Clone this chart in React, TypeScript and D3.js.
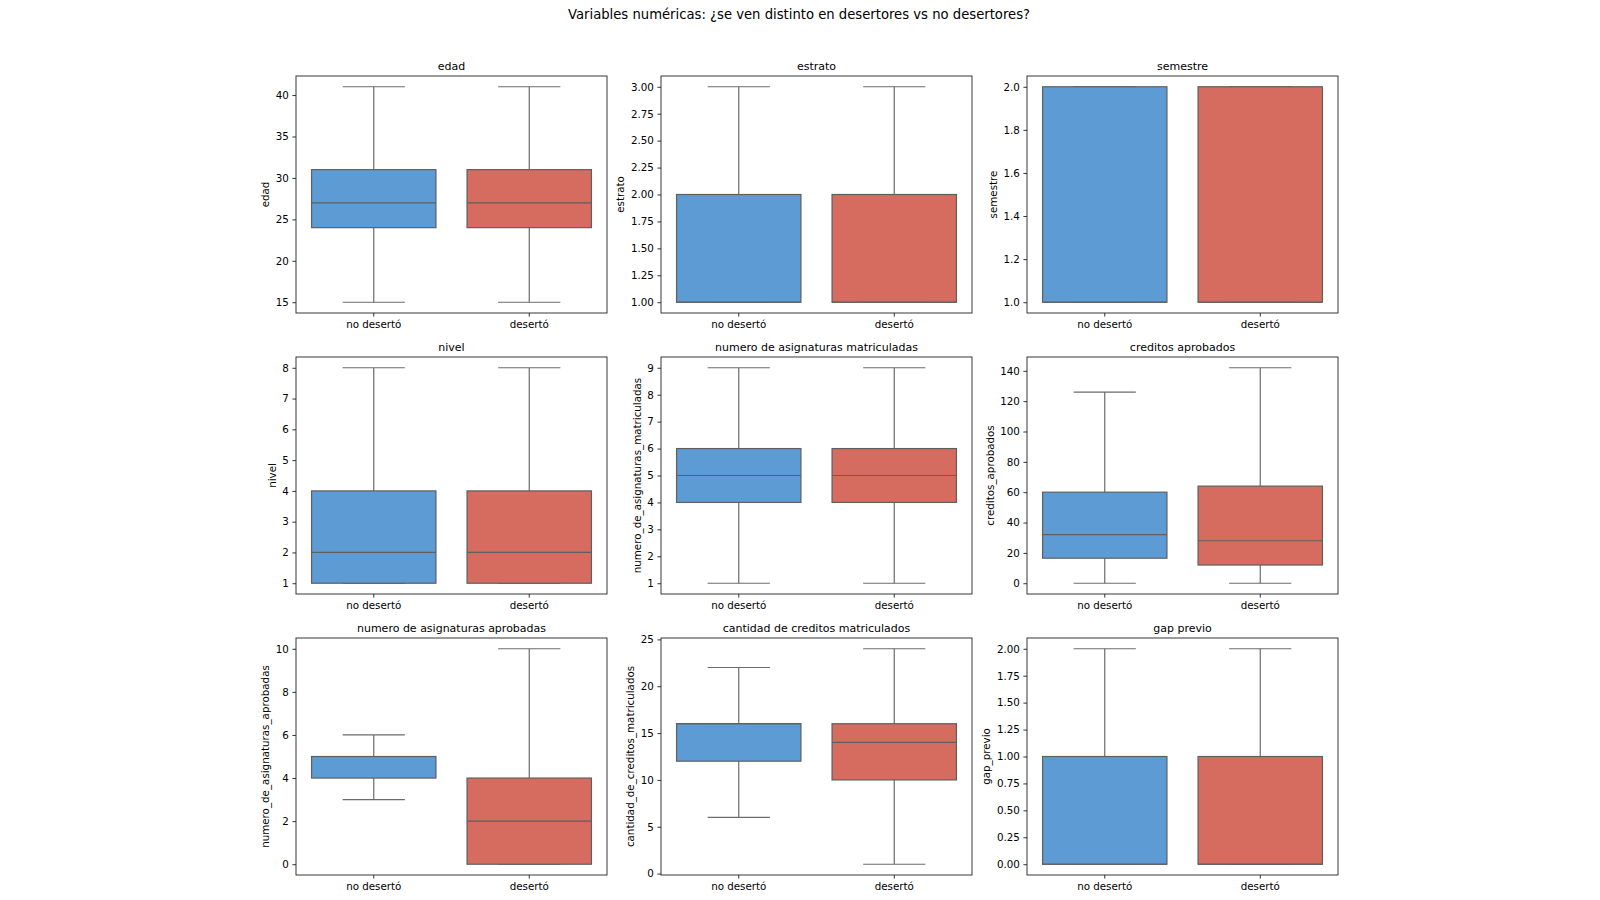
import { useEffect, useRef } from "react";
import * as d3 from "d3";

// groups and colours
const groups = ["no desertó", "desertó"];
const groupColors = ["#5d9bd5", "#d66b5f"];

// box stats per group: [whisker low, q1, median, q3, whisker high]
const edadStats = [[15, 24, 27, 31, 41], [15, 24, 27, 31, 41]];
const estratoStats = [[1, 1, 1, 2, 3], [1, 1, 1, 2, 3]];
const semestreStats = [[1, 1, 1, 2, 2], [1, 1, 1, 2, 2]];
const nivelStats = [[1, 1, 2, 4, 8], [1, 1, 2, 4, 8]];
const asigMatStats = [[1, 4, 5, 6, 9], [1, 4, 5, 6, 9]];
const credAprobStats = [[0, 16.5, 32, 60, 126], [0, 12, 28, 64, 142]];
const asigAprobStats = [[3, 4, 5, 5, 6], [0, 0, 2, 4, 10]];
const credMatStats = [[6, 12, 16, 16, 22], [1, 10, 14, 16, 24]];
const gapStats = [[0, 0, 0, 1, 2], [0, 0, 0, 1, 2]];

// tick labels
const edadTicks = [15, 20, 25, 30, 35, 40];
const estratoTicks = [1, 1.25, 1.5, 1.75, 2, 2.25, 2.5, 2.75, 3];
const semestreTicks = [1, 1.2, 1.4, 1.6, 1.8, 2];
const nivelTicks = [1, 2, 3, 4, 5, 6, 7, 8];
const asigMatTicks = [1, 2, 3, 4, 5, 6, 7, 8, 9];
const credAprobTicks = [0, 20, 40, 60, 80, 100, 120, 140];
const asigAprobTicks = [0, 2, 4, 6, 8, 10];
const credMatTicks = [0, 5, 10, 15, 20, 25];
const gapTicks = [0, 0.25, 0.5, 0.75, 1, 1.25, 1.5, 1.75, 2];

const panels = [
  { title: "edad", ylabel: "edad", stats: edadStats, ticks: edadTicks, fmt: ".0f" },
  { title: "estrato", ylabel: "estrato", stats: estratoStats, ticks: estratoTicks, fmt: ".2f" },
  { title: "semestre", ylabel: "semestre", stats: semestreStats, ticks: semestreTicks, fmt: ".1f" },
  { title: "nivel", ylabel: "nivel", stats: nivelStats, ticks: nivelTicks, fmt: ".0f" },
  { title: "numero de asignaturas matriculadas", ylabel: "numero_de_asignaturas_matriculadas", stats: asigMatStats, ticks: asigMatTicks, fmt: ".0f" },
  { title: "creditos aprobados", ylabel: "creditos_aprobados", stats: credAprobStats, ticks: credAprobTicks, fmt: ".0f" },
  { title: "numero de asignaturas aprobadas", ylabel: "numero_de_asignaturas_aprobadas", stats: asigAprobStats, ticks: asigAprobTicks, fmt: ".0f" },
  { title: "cantidad de creditos matriculados", ylabel: "cantidad_de_creditos_matriculados", stats: credMatStats, ticks: credMatTicks, fmt: ".0f" },
  { title: "gap previo", ylabel: "gap_previo", stats: gapStats, ticks: gapTicks, fmt: ".2f" },
];

const FONT = "DejaVu Sans, sans-serif";

export default function App() {
  const svgRef = useRef<SVGSVGElement>(null);

  useEffect(() => {
    if (!svgRef.current) return;
    document.body.style.margin = "0";

    const svg = d3.select(svgRef.current);
    svg.selectAll("*").remove();

    svg.append("rect").attr("width", 1600).attr("height", 900).attr("fill", "#fff");

    svg.append("text")
      .attr("x", 799)
      .attr("y", 18.5)
      .attr("text-anchor", "middle")
      .style("font-family", FONT)
      .style("font-size", "13.2px")
      .style("fill", "#000")
      .text("Variables numéricas: ¿se ven distinto en desertores vs no desertores?");

    // grid layout (pixels)
    const colLeft = [296, 661, 1027];
    const rowTop = [76, 357, 638];
    const w = 311;
    const h = 237;
    const tickLen = 3.6;
    const tickPad = 3.6;
    const lineColor = "#6b6b6b";

    panels.forEach((p, i) => {
      const g = svg.append("g")
        .attr("transform", `translate(${colLeft[i % 3]},${rowTop[Math.floor(i / 3)]})`);

      const lo = d3.min(p.stats, (s) => s[0])!;
      const hi = d3.max(p.stats, (s) => s[4])!;
      const m = (hi - lo) * 0.05;

      const y = d3.scaleLinear().domain([lo - m, hi + m]).range([h, 0]);
      const x = d3.scaleBand().domain(groups).range([0, w]).padding(0);
      const bw = x.bandwidth() * 0.8;
      const cw = x.bandwidth() * 0.4;

      // y axis
      const yAxis = g.append("g")
        .call(d3.axisLeft(y).tickValues(p.ticks).tickFormat(d3.format(p.fmt) as any)
          .tickSize(tickLen).tickPadding(tickPad));
      yAxis.select(".domain").remove();
      yAxis.selectAll("line").attr("stroke", "#000").attr("stroke-width", 0.8);
      yAxis.selectAll("text")
        .style("font-family", FONT)
        .style("font-size", "10.3px")
        .style("fill", "#000");

      let maxW = 0;
      yAxis.selectAll<SVGTextElement, unknown>("text").each(function () {
        maxW = Math.max(maxW, this.getBBox().width);
      });

      // x axis
      const xAxis = g.append("g")
        .attr("transform", `translate(0,${h})`)
        .call(d3.axisBottom(x).tickSize(tickLen).tickPadding(tickPad));
      xAxis.select(".domain").remove();
      xAxis.selectAll("line").attr("stroke", "#000").attr("stroke-width", 0.8);
      xAxis.selectAll("text")
        .style("font-family", FONT)
        .style("font-size", "10.3px")
        .style("fill", "#000");

      // boxes
      groups.forEach((grp, k) => {
        const [wl, q1, med, q3, wh] = p.stats[k];
        const cx = x(grp)! + x.bandwidth() / 2;
        const bg = g.append("g");
        bg.append("line")
          .attr("x1", cx).attr("x2", cx).attr("y1", y(q1)).attr("y2", y(wl))
          .attr("stroke", lineColor).attr("stroke-width", 1.2);
        bg.append("line")
          .attr("x1", cx).attr("x2", cx).attr("y1", y(q3)).attr("y2", y(wh))
          .attr("stroke", lineColor).attr("stroke-width", 1.2);
        [wl, wh].forEach((v) => {
          bg.append("line")
            .attr("x1", cx - cw / 2).attr("x2", cx + cw / 2).attr("y1", y(v)).attr("y2", y(v))
            .attr("stroke", lineColor).attr("stroke-width", 1.2);
        });
        bg.append("rect")
          .attr("x", cx - bw / 2)
          .attr("y", y(q3))
          .attr("width", bw)
          .attr("height", y(q1) - y(q3))
          .attr("fill", groupColors[k])
          .attr("stroke", "#5f5f5f")
          .attr("stroke-width", 1.2);
        bg.append("line")
          .attr("x1", cx - bw / 2).attr("x2", cx + bw / 2).attr("y1", y(med)).attr("y2", y(med))
          .attr("stroke", "#5f5f5f").attr("stroke-width", 1.2);
      });

      // frame
      g.append("rect")
        .attr("width", w).attr("height", h)
        .attr("fill", "none").attr("stroke", "#222").attr("stroke-width", 0.9);

      // title
      g.append("text")
        .attr("x", w / 2)
        .attr("y", -6)
        .attr("text-anchor", "middle")
        .style("font-family", FONT)
        .style("font-size", "11px")
        .style("fill", "#000")
        .text(p.title);

      // y label
      const edge = -(tickLen + tickPad + maxW + 4);
      g.append("text")
        .attr("transform", `translate(${edge - 2.5},${h / 2}) rotate(-90)`)
        .attr("text-anchor", "middle")
        .style("font-family", FONT)
        .style("font-size", "10.3px")
        .style("fill", "#000")
        .text(p.ylabel);
    });
  }, []);

  return <svg ref={svgRef} width={1600} height={900} style={{ display: "block" }} />;
}
